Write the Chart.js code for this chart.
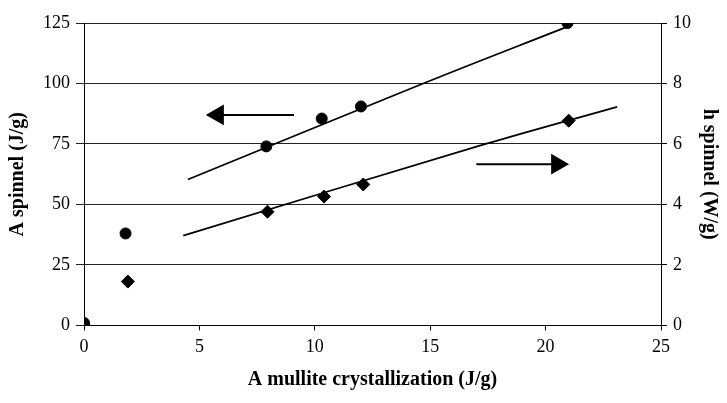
<!DOCTYPE html>
<html>
<head>
<meta charset="utf-8">
<script src="https://cdn.jsdelivr.net/npm/chart.js@4/dist/chart.umd.min.js"></script>
<style>
  html, body { margin: 0; padding: 0; background: #fff; }
  #wrap { width: 727px; height: 403px; }
</style>
</head>
<body>
<div id="wrap"><canvas id="myChart"></canvas></div>
<script>
// data
const mulliteX = [0, 1.8, 7.9, 10.3, 12.0, 20.95];
const spinnelA = [1, 38, 74, 85.5, 90.5, 125];        // circles, left axis (J/g)
const diamondX = [0, 1.9, 7.95, 10.4, 12.1, 21.0];
const spinnelH = [0, 1.45, 3.76, 4.26, 4.66, 6.77];    // diamonds, right axis (W/g)

// fitted trend lines as drawn
const trendAX = [4.5, 14.83, 20.95];
const trendA = [60.3, 100.5, 123.5];
const trendHX = [4.3, 17.4, 23.1];
const trendH = [2.97, 6.0, 7.23];

// the two arrows pointing at their axis
const arrowAX = [9.1, 5.8];
const arrowAY = [87, 87];
const arrowHX = [17.0, 20.5];
const arrowHY = [5.33, 5.33];

const xTicks = [0, 5, 10, 15, 20, 25];

const pts = (xs, ys) => xs.map((x, i) => ({ x: x, y: ys[i] }));

const serif = "'Liberation Serif', 'Times New Roman', serif";
const tickFont = { family: serif, size: 18 };
const titleFont = { family: serif, size: 20, weight: 'bold' };

new Chart(document.getElementById('myChart'), {
  type: 'scatter',
  data: {
    datasets: [
      {
        data: pts(mulliteX, spinnelA), yAxisID: 'y',
        pointStyle: 'circle', pointRadius: 5.5, backgroundColor: '#000', borderColor: '#000'
      },
      {
        data: pts(diamondX, spinnelH), yAxisID: 'y2',
        pointStyle: 'rectRot', pointRadius: 6.5, backgroundColor: '#000', borderColor: '#000'
      },
      {
        data: pts(trendAX, trendA), yAxisID: 'y', showLine: true,
        pointRadius: 0, borderColor: '#000', borderWidth: 1.8, tension: 0.4
      },
      {
        data: pts(trendHX, trendH), yAxisID: 'y2', showLine: true,
        pointRadius: 0, borderColor: '#000', borderWidth: 1.8, tension: 0.4
      },
      {
        data: pts(arrowAX, arrowAY), yAxisID: 'y', showLine: true,
        borderColor: '#000', borderWidth: 2,
        pointStyle: 'triangle', pointRadius: [0, 10], pointRotation: [0, -90],
        backgroundColor: '#000'
      },
      {
        data: pts(arrowHX, arrowHY), yAxisID: 'y2', showLine: true,
        borderColor: '#000', borderWidth: 2,
        pointStyle: 'triangle', pointRadius: [0, 10], pointRotation: [0, 90],
        backgroundColor: '#000'
      }
    ]
  },
  options: {
    responsive: true,
    maintainAspectRatio: false,
    animation: false,
    layout: { padding: { left: 4, right: 3, top: 23, bottom: 8 } },
    plugins: { legend: { display: false }, tooltip: { enabled: false } },
    scales: {
      x: {
        type: 'linear', min: 0, max: 25,
        afterBuildTicks: (axis) => { axis.ticks = xTicks.map(v => ({ value: v })); },
        grid: { drawOnChartArea: false, drawTicks: true, tickLength: 5, color: '#000' },
        border: { display: true, color: '#000' },
        ticks: { color: '#000', font: tickFont, padding: 6 },
        title: {
          display: true, text: 'A mullite crystallization (J/g)', color: '#000',
          font: titleFont, padding: { top: 4, bottom: 3 }
        }
      },
      y: {
        position: 'left', min: 0, max: 125,
        ticks: { stepSize: 25, color: '#000', font: tickFont, padding: 6 },
        grid: { color: '#222', tickLength: 8 },
        border: { display: true, color: '#000' },
        title: {
          display: true, text: 'A spinnel (J/g)', color: '#000',
          font: titleFont, padding: { top: 2, bottom: 7 }
        }
      },
      y2: {
        position: 'right', min: 0, max: 10,
        ticks: { stepSize: 2, color: '#000', font: tickFont, padding: 6 },
        grid: { drawOnChartArea: false, tickLength: 6, color: '#000' },
        border: { display: true, color: '#000' },
        title: {
          display: true, text: 'h spinnel (W/g)', color: '#000',
          font: titleFont, padding: { top: 3, bottom: 0 }
        }
      }
    }
  }
});
</script>
</body>
</html>
